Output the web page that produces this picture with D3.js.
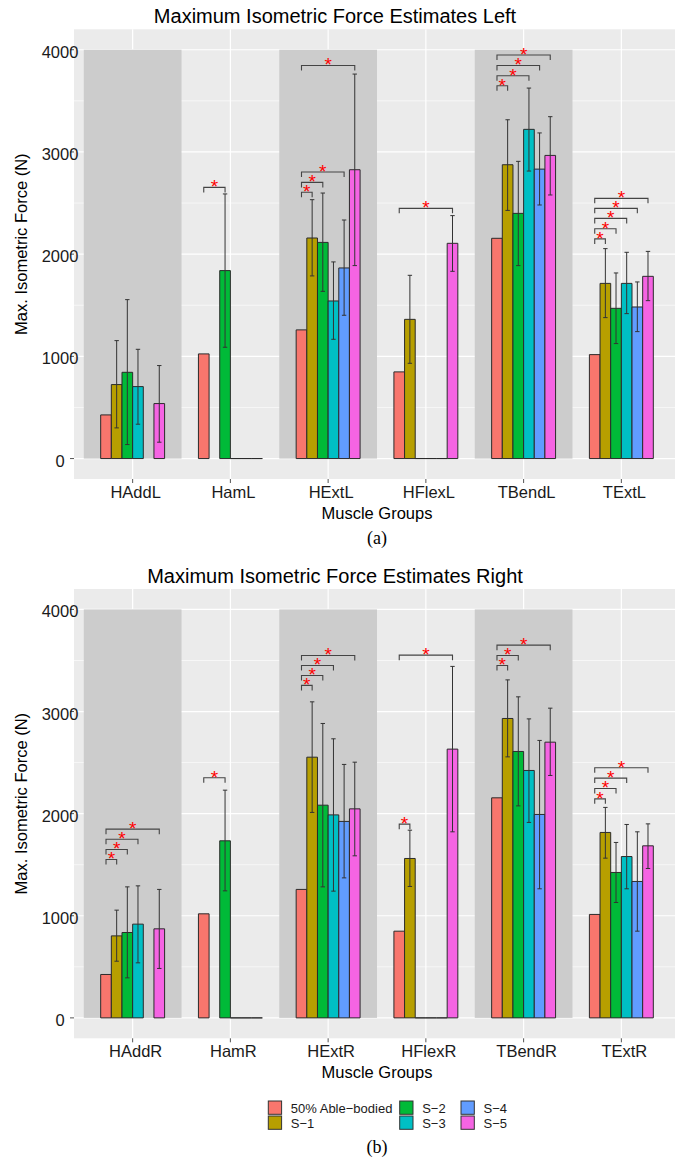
<!DOCTYPE html>
<html>
<head>
<meta charset="utf-8">
<script src="https://cdn.jsdelivr.net/npm/d3@7"></script>
<style>
  body { margin: 0; background: #fff; }
  text { font-family: "Liberation Sans", Arial, sans-serif; }
</style>
</head>
<body>
<svg id="chart" width="675" height="1161"></svg>
<script>
// series and categories
const series = ["50% Able\u2212bodied", "S\u22121", "S\u22122", "S\u22123", "S\u22124", "S\u22125"];
const colors = ["#F8766D", "#B79F00", "#00BA38", "#00BFC4", "#619CFF", "#F564E3"];
const yTicks = [0, 1000, 2000, 3000, 4000];

const catsLeft = ["HAddL", "HamL", "HExtL", "HFlexL", "TBendL", "TExtL"];
const catsRight = ["HAddR", "HamR", "HExtR", "HFlexR", "TBendR", "TExtR"];

// mean values, one row per muscle group (null = no bar)
const meanLeft = [
  [427, 724, 844, 704, null, 538],
  [1024, null, 1839, 0, 0, 0],
  [1259, 2158, 2115, 1542, 1865, 2826],
  [848, 1362, 0, 0, 0, 2106],
  [2155, 2875, 2399, 3221, 2832, 2966],
  [1017, 1714, 1470, 1714, 1483, 1783]
];
const upperLeft = [
  [null, 1154, 1555, 1069, null, 910],
  [null, null, 2589, null, null, null],
  [null, 2533, 2598, 1924, 2334, 3762],
  [null, 1793, null, null, null, 2377],
  [null, 3315, 2908, 3625, 3186, 3345],
  [null, 2054, 1816, 2018, 1728, 2027]
];
const lowerLeft = [
  [null, 300, 137, 336, null, 160],
  [null, null, 1089, null, null, null],
  [null, 1787, 1636, 1167, 1402, 1888],
  [null, 932, null, null, null, 1832],
  [null, 2428, 1888, 2813, 2481, 2579],
  [null, 1379, 1125, 1418, 1242, 1545]
];
// significance brackets: [group index, target series index, height]
const sigLeft = [
  [1, 2, 2653],
  [2, 1, 2605], [2, 2, 2702], [2, 4, 2804], [2, 5, 3846],
  [3, 5, 2448],
  [4, 1, 3648], [4, 3, 3746], [4, 4, 3846], [4, 5, 3948],
  [5, 1, 2149], [5, 2, 2249], [5, 3, 2350], [5, 4, 2448], [5, 5, 2546]
];

const meanRight = [
  [425, 803, 836, 918, null, 872],
  [1019, null, 1734, 0, 0, 0],
  [1258, 2553, 2083, 1988, 1924, 2047],
  [849, 1561, 0, 0, 0, 2632],
  [2155, 2932, 2609, 2423, 1992, 2700],
  [1013, 1816, 1424, 1580, 1336, 1685]
];
const upperRight = [
  [null, 1055, 1283, 1293, null, 1258],
  [null, null, 2230, null, null, null],
  [null, 3095, 2883, 2733, 2482, 2504],
  [null, 1838, null, null, null, 3442],
  [null, 3310, 3144, 2928, 2717, 3033],
  [null, 2061, 1718, 1894, 1822, 1900]
];
const lowerRight = [
  [null, 555, 392, 539, null, 484],
  [null, null, 1244, null, null, null],
  [null, 2012, 1283, 1241, 1371, 1587],
  [null, 1287, null, null, null, 1822],
  [null, 2556, 2076, 1914, 1264, 2374],
  [null, 1564, 1130, 1264, 849, 1463]
];
const sigRight = [
  [0, 1, 1551], [0, 2, 1649], [0, 3, 1750], [0, 5, 1848],
  [1, 2, 2351],
  [2, 1, 3256], [2, 2, 3353], [2, 3, 3451], [2, 5, 3549],
  [3, 1, 1897], [3, 5, 3552],
  [4, 1, 3451], [4, 2, 3549], [4, 5, 3650],
  [5, 1, 2145], [5, 2, 2247], [5, 3, 2348], [5, 5, 2449]
];

const svg = d3.select("#chart");
const panelLeft = 74, panelRight = 680;

function drawPanel(p) {
  const g = svg.append("g");
  const x = d3.scalePoint().domain(p.cats).range([panelLeft, panelRight]).padding(0.6);
  const step = x.step();
  const xs = d3.scaleBand().domain(d3.range(series.length)).range([-0.327 * step, 0.327 * step]);
  const bw = xs.bandwidth();
  const y = d3.scaleLinear().domain([-200, 4200]).range([p.bottom, p.top]);
  const cx = (i, j) => x(p.cats[i]) + xs(j) + bw / 2;

  // title
  g.append("text").attr("x", 335).attr("y", p.top - 6)
    .attr("text-anchor", "middle").attr("font-size", 20).attr("fill", "#000")
    .text(p.title);

  // panel background + grid
  g.append("rect").attr("x", panelLeft).attr("y", p.top)
    .attr("width", panelRight - panelLeft).attr("height", p.bottom - p.top)
    .attr("fill", "#EBEBEB");
  const minor = d3.range(500, 4200, 1000);
  g.selectAll(".minor").data(minor).join("line")
    .attr("x1", panelLeft).attr("x2", panelRight)
    .attr("y1", d => y(d)).attr("y2", d => y(d))
    .attr("stroke", "#fff").attr("stroke-width", 0.6);
  g.selectAll(".major").data(yTicks).join("line")
    .attr("x1", panelLeft).attr("x2", panelRight)
    .attr("y1", d => y(d)).attr("y2", d => y(d))
    .attr("stroke", "#fff").attr("stroke-width", 1.2);
  g.selectAll(".vgrid").data(p.cats).join("line")
    .attr("x1", d => x(d)).attr("x2", d => x(d))
    .attr("y1", p.top).attr("y2", p.bottom)
    .attr("stroke", "#fff").attr("stroke-width", 1.2);

  // shaded background bands for alternating groups
  g.selectAll(".band").data(p.cats.filter((c, i) => i % 2 === 0)).join("rect")
    .attr("x", d => x(d) - step / 2).attr("width", step)
    .attr("y", y(4000)).attr("height", y(0) - y(4000))
    .attr("fill", "#CCCCCC");

  // bars
  const bars = [];
  p.mean.forEach((row, i) => row.forEach((v, j) => {
    if (v !== null) bars.push({ i, j, v });
  }));
  g.selectAll(".bar").data(bars).join("path")
    .attr("d", d => {
      const x0 = x(p.cats[d.i]) + xs(d.j);
      return `M${x0},${y(0)}V${y(d.v)}H${x0 + bw}V${y(0)}Z`;
    })
    .attr("fill", d => colors[d.j])
    .attr("stroke", "#2b2b2b").attr("stroke-width", 1);

  // error bars
  const errs = [];
  p.upper.forEach((row, i) => row.forEach((v, j) => {
    if (v !== null) errs.push({ i, j, hi: v, lo: p.lower[i][j] });
  }));
  const eg = g.selectAll(".err").data(errs).join("g")
    .attr("stroke", "#333").attr("stroke-width", 1).attr("fill", "none");
  eg.append("line")
    .attr("x1", d => cx(d.i, d.j)).attr("x2", d => cx(d.i, d.j))
    .attr("y1", d => y(d.lo)).attr("y2", d => y(d.hi));
  eg.append("line")
    .attr("x1", d => cx(d.i, d.j) - 2.2).attr("x2", d => cx(d.i, d.j) + 2.2)
    .attr("y1", d => y(d.hi)).attr("y2", d => y(d.hi));
  eg.append("line")
    .attr("x1", d => cx(d.i, d.j) - 2.2).attr("x2", d => cx(d.i, d.j) + 2.2)
    .attr("y1", d => y(d.lo)).attr("y2", d => y(d.lo));

  // significance brackets
  g.selectAll(".sig").data(p.sig).join("path")
    .attr("d", d => {
      const x1 = cx(d[0], 0), x2 = cx(d[0], d[1]), yy = y(d[2]);
      return `M${x1},${yy + 5}V${yy}H${x2}V${yy + 5}`;
    })
    .attr("fill", "none").attr("stroke", "#444").attr("stroke-width", 1.1);
  g.selectAll(".star").data(p.sig).join("text")
    .attr("x", d => (cx(d[0], 0) + cx(d[0], d[1])) / 2)
    .attr("y", d => y(d[2]) + 6)
    .attr("text-anchor", "middle").attr("font-size", 19).attr("fill", "#FF0000")
    .text("*");

  // axes
  g.selectAll(".ytick").data(yTicks).join("line")
    .attr("x1", panelLeft - 4).attr("x2", panelLeft)
    .attr("y1", d => y(d)).attr("y2", d => y(d))
    .attr("stroke", "#555").attr("stroke-width", 1);
  g.selectAll(".ylab").data(yTicks).join("text")
    .attr("x", 60).attr("y", d => y(d) + 8)
    .attr("text-anchor", "middle").attr("font-size", 16.5).attr("fill", "#1a1a1a")
    .text(d => d);
  g.selectAll(".xtick").data(p.cats).join("line")
    .attr("x1", d => x(d)).attr("x2", d => x(d))
    .attr("y1", p.bottom).attr("y2", p.bottom + 4)
    .attr("stroke", "#555").attr("stroke-width", 1);
  g.selectAll(".xlab").data(p.cats).join("text")
    .attr("x", d => x(d) + 3).attr("y", p.bottom + 19)
    .attr("text-anchor", "middle").attr("font-size", 16.5).attr("fill", "#1a1a1a")
    .text(d => d);

  g.append("text").attr("x", 377).attr("y", p.bottom + 40)
    .attr("text-anchor", "middle").attr("font-size", 16.5).attr("fill", "#000")
    .text("Muscle Groups");
  const my = (p.top + p.bottom) / 2;
  g.append("text").attr("transform", `translate(27,${my - 10}) rotate(-90)`)
    .attr("text-anchor", "middle").attr("font-size", 16.5).attr("fill", "#000")
    .text("Max. Isometric Force (N)");
}

drawPanel({
  title: "Maximum Isometric Force Estimates Left",
  cats: catsLeft, mean: meanLeft, upper: upperLeft, lower: lowerLeft, sig: sigLeft,
  top: 29.3, bottom: 479
});
drawPanel({
  title: "Maximum Isometric Force Estimates Right",
  cats: catsRight, mean: meanRight, upper: upperRight, lower: lowerRight, sig: sigRight,
  top: 589, bottom: 1038.3
});

// sub-figure captions
svg.append("text").attr("x", 377).attr("y", 544)
  .attr("text-anchor", "middle").attr("font-size", 18)
  .style("font-family", "'Liberation Serif', 'Times New Roman', serif")
  .text("(a)");
svg.append("text").attr("x", 377).attr("y", 1153)
  .attr("text-anchor", "middle").attr("font-size", 18)
  .style("font-family", "'Liberation Serif', 'Times New Roman', serif")
  .text("(b)");

// legend (column-major, 2 rows)
const legX = [268.3, 399.7, 461];
const legY = [1101, 1116];
const leg = svg.append("g").selectAll("g").data(series).join("g")
  .attr("transform", (d, i) => `translate(${legX[Math.floor(i / 2)]},${legY[i % 2]})`);
leg.append("rect").attr("width", 13.3).attr("height", 13.3)
  .attr("fill", (d, i) => colors[i]).attr("stroke", "#333").attr("stroke-width", 1);
leg.append("text").attr("x", 22.5).attr("y", 11.5)
  .attr("font-size", 13).attr("fill", "#1a1a1a")
  .text(d => d);
</script>
</body>
</html>
